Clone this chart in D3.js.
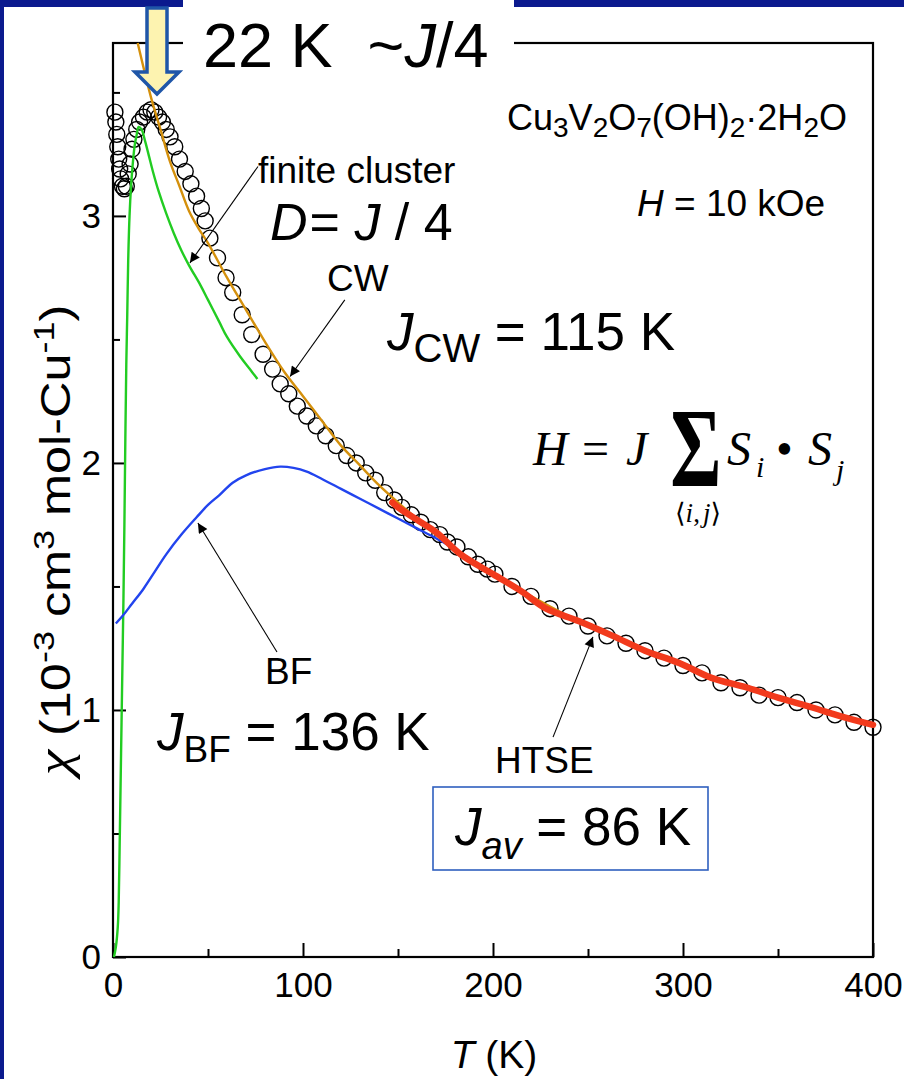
<!DOCTYPE html>
<html><head><meta charset="utf-8">
<script src="https://cdn.jsdelivr.net/npm/d3@7"></script>
<style>body{margin:0;background:#fff;} svg{display:block;} text{white-space:pre;}</style>
</head><body><svg id="c" width="904" height="1079"></svg>
<script>
// ---- data ----
const circleT   = [1,1.5,2,2.5,3,3.5,4,5,6,7,8,9,10,11,12.5,14,16,18,20,22,24,26,28,30,32.5,35,38,41,44,46.5,48.5,51,55,59.5,63,68,73,79,84,88,92.5,97,102,107,112,117.5,123,128,133,138,143,148,152,157,162,167,172,176,181,187,192,197,201,210,220,230,240,250,260,270,280,290,300,310,320,330,340,350,360,370,380,390,400];
const circleChi = [3.42,3.38,3.33,3.28,3.23,3.19,3.15,3.12,3.11,3.12,3.17,3.21,3.27,3.31,3.35,3.38,3.40,3.42,3.43,3.42,3.40,3.38,3.35,3.32,3.28,3.23,3.18,3.13,3.08,3.03,2.98,2.91,2.83,2.75,2.69,2.60,2.52,2.44,2.38,2.32,2.28,2.23,2.19,2.15,2.11,2.07,2.03,2.00,1.96,1.93,1.88,1.85,1.82,1.79,1.76,1.73,1.71,1.68,1.66,1.62,1.59,1.57,1.55,1.50,1.46,1.41,1.38,1.34,1.30,1.27,1.24,1.21,1.18,1.15,1.11,1.09,1.06,1.05,1.03,1.00,0.98,0.95,0.93];

const cwT   = [13,20,25,30,35,40,45,50,60,70,80,90,100,110,120,130,140,150,175,200,225,250,275,300,325,350,375,400];
const cwChi = [3.70,3.48,3.35,3.22,3.12,3.02,2.95,2.89,2.75,2.62,2.49,2.37,2.27,2.17,2.07,1.99,1.91,1.84,1.68,1.55,1.44,1.34,1.26,1.18,1.11,1.05,0.99,0.94];

const fcT   = [0.5,1.5,2.5,3,3.5,4,4.5,5,5.5,6,6.5,7,7.5,8,8.7,9.5,10.5,11.5,12.5,13.5,15,17,19,21,24,28,32,36,40,46,50,56,60,67,72,76];
const fcChi = [0.0,0.04,0.12,0.22,0.45,0.7,0.95,1.2,1.45,1.75,2.1,2.4,2.6,2.82,3.0,3.12,3.22,3.29,3.33,3.36,3.35,3.30,3.24,3.18,3.10,3.01,2.93,2.86,2.80,2.72,2.66,2.57,2.51,2.43,2.38,2.34];

const bfT   = [1.5,5,10,16,22,28,36,44,50,56,63,70,80,88,95,102,110,120,130,140,150,160,170,178];
const bfChi = [1.35,1.38,1.43,1.49,1.56,1.63,1.71,1.78,1.83,1.87,1.92,1.95,1.975,1.985,1.98,1.965,1.935,1.895,1.855,1.815,1.775,1.735,1.695,1.66];

const htseT   = [147,150,160,170,183,200,215,228,245,263,280,298,315,334,350,368,385,400];
const htseChi = [1.84,1.82,1.77,1.72,1.63,1.55,1.48,1.41,1.36,1.30,1.24,1.19,1.13,1.09,1.05,1.01,0.97,0.94];

const xMajor = [0,100,200,300,400];
const xMinor = [50,150,250,350];
const yMajor = [0,1,2,3];
const yMinor = [0.5,1.5,2.5,3.5];

// ---- drawing ----
const svg = d3.select('#c');
const SANS = '"Liberation Sans", Arial, Helvetica, sans-serif';
const SERIF = '"Liberation Serif", "Times New Roman", serif';
const x = d3.scaleLinear().domain([0,400]).range([113,873]);
const y = d3.scaleLinear().domain([0,3.7]).range([957,43]);
const zip = (a,b)=>a.map((v,i)=>[v,b[i]]);

svg.append('rect').attr('width',904).attr('height',1079).attr('fill','#fff');

// frame
svg.append('rect').attr('x',x(0)).attr('y',y(3.7)).attr('width',x(400)-x(0)).attr('height',y(0)-y(3.7))
  .attr('fill','none').attr('stroke','#000').attr('stroke-width',2.2);

// axes
function styleAxis(g){ g.select('.domain').remove(); g.selectAll('line').attr('stroke','#000').attr('stroke-width',2);
  g.selectAll('text').attr('font-family',SANS).attr('font-size',35).attr('fill','#000'); }
svg.append('g').attr('transform',`translate(0,${y(0)})`)
  .call(d3.axisBottom(x).tickValues(xMajor).tickSizeInner(-14).tickSizeOuter(0).tickPadding(15).tickFormat(d3.format('d'))).call(styleAxis);
svg.append('g').attr('transform',`translate(0,${y(0)})`)
  .call(d3.axisBottom(x).tickValues(xMinor).tickSizeInner(-8).tickSizeOuter(0).tickFormat('')).call(styleAxis);
svg.append('g').attr('transform',`translate(${x(0)},0)`)
  .call(d3.axisLeft(y).tickValues(yMajor).tickSizeInner(-13).tickSizeOuter(0).tickPadding(12).tickFormat(d3.format('d'))).call(styleAxis);
svg.append('g').attr('transform',`translate(${x(0)},0)`)
  .call(d3.axisLeft(y).tickValues(yMinor).tickSizeInner(-7).tickSizeOuter(0).tickFormat('')).call(styleAxis);

// data circles
svg.append('g').selectAll('circle').data(zip(circleT,circleChi)).join('circle')
  .attr('cx',d=>x(d[0])).attr('cy',d=>y(d[1])).attr('r',8)
  .attr('fill','none').attr('stroke','#000').attr('stroke-width',1.4);

const line = d3.line().x(d=>x(d[0])).y(d=>y(d[1])).curve(d3.curveCatmullRom.alpha(0.5));
svg.append('path').attr('d',line(zip(fcT,fcChi))).attr('fill','none').attr('stroke','#22cc22').attr('stroke-width',2.4);
svg.append('path').attr('d',line(zip(bfT,bfChi))).attr('fill','none').attr('stroke','#2244ee').attr('stroke-width',2.4);
svg.append('path').attr('d',line(zip(cwT,cwChi))).attr('fill','none').attr('stroke','#d4900c').attr('stroke-width',2.4);
svg.append('path').attr('d',line(zip(htseT,htseChi))).attr('fill','none').attr('stroke','#f23a1c').attr('stroke-width',6.5).attr('stroke-linecap','round');

// annotation arrows (in data coordinates)
svg.append('defs').append('marker').attr('id','ah').attr('viewBox','0 0 10 10').attr('refX',10).attr('refY',5)
  .attr('markerWidth',14).attr('markerHeight',10).attr('markerUnits','userSpaceOnUse').attr('orient','auto')
  .append('path').attr('d','M0,0L10,5L0,10z').attr('fill','#000');
const arrows = [
  [[76.3,3.20],[40.5,2.81]],
  [[122,2.66],[93.2,2.35]],
  [[86.3,1.235],[44.7,1.757]],
  [[231.6,0.89],[252.6,1.296]]
];
svg.append('g').selectAll('line').data(arrows).join('line')
  .attr('x1',d=>x(d[0][0])).attr('y1',d=>y(d[0][1])).attr('x2',d=>x(d[1][0])).attr('y2',d=>y(d[1][1]))
  .attr('stroke','#000').attr('stroke-width',1.1).attr('marker-end','url(#ah)');

// rich text helper
function rich(x0,y0,parts,base){
  const t = svg.append('text').attr('x',x0).attr('y',y0).attr('font-family',base.f||SANS).attr('font-size',base.s).attr('fill','#000');
  if(base.a) t.attr('text-anchor',base.a);
  if(base.tr) t.attr('transform',base.tr);
  let cur=0;
  parts.forEach(p=>{ const s=t.append('tspan').text(p.t); const o=p.o||0; if(o!==cur) s.attr('dy',o-cur); cur=o;
    if(p.s) s.attr('font-size',p.s); if(p.i) s.attr('font-style','italic'); if(p.dx) s.attr('dx',p.dx); if(p.f) s.attr('font-family',p.f); });
  return t;
}

// chart annotations
rich(258,183,[{t:'finite cluster'}],{s:37});
rich(327,291,[{t:'CW'}],{s:37});
rich(265,684,[{t:'BF'}],{s:37});
rich(495,773,[{t:'HTSE'}],{s:37});
rich(507,130,[{t:'Cu'},{t:'3',s:28,o:7},{t:'V'},{t:'2',s:28,o:7},{t:'O'},{t:'7',s:28,o:7},{t:'(OH)'},{t:'2',s:28,o:7},{t:'·2H'},{t:'2',s:28,o:7},{t:'O'}],{s:36});
rich(637,216,[{t:'H',i:1},{t:' = 10 kOe'}],{s:37});

// axis titles
rich(494,1068,[{t:'T',i:1},{t:' (K)'}],{s:39,a:'middle'});
rich(0,0,[{t:'χ',f:SERIF,i:1,s:48},{t:' (10'},{t:'-3',s:30,o:-16},{t:' cm'},{t:'3',s:30,o:-16},{t:' mol-Cu'},{t:'-1',s:30,o:-16},{t:')'}],{s:42,a:'middle',tr:'translate(70,540) rotate(-90) scale(1.2,1)'});

// slide texts
rich(270,240,[{t:'D',i:1},{t:'= ',dx:2},{t:'J',i:1},{t:' / 4'}],{s:52});
rich(387,350,[{t:'J',i:1},{t:'CW',s:40,o:12},{t:' = 115 K'}],{s:53});
rich(157,750,[{t:'J',i:1},{t:'BF',s:37,o:12},{t:' = 136 K'}],{s:53});
svg.append('rect').attr('x',433).attr('y',787).attr('width',275).attr('height',83).attr('fill','none').attr('stroke','#2f5fbf').attr('stroke-width',1.6);
rich(455,845,[{t:'J',i:1},{t:'av',s:38,o:14,i:1},{t:' = 86 K'}],{s:53});

// Hamiltonian
rich(533,465,[{t:'H',i:1}],{s:48,f:SERIF});
rich(582,465,[{t:'='}],{s:48,f:SERIF});
rich(626,465,[{t:'J',i:1}],{s:48,f:SERIF});
svg.append('text').attr('x',696).attr('y',486).attr('text-anchor','middle').attr('font-family',SERIF).attr('font-size',112).attr('font-weight','bold')
  .attr('transform','translate(696,0) scale(0.7,1) translate(-696,0)').text('Σ');
rich(698,522,[{t:'⟨',f:'"DejaVu Serif", serif'},{t:'i',i:1},{t:','},{t:'j',i:1,dx:3},{t:'⟩',f:'"DejaVu Serif", serif'}],{s:27,f:SERIF,a:'middle'});
rich(727,465,[{t:'S',i:1}],{s:48,f:SERIF});
rich(756,477,[{t:'i',i:1}],{s:30,f:SERIF});
rich(776,465,[{t:'•'}],{s:48,f:SERIF});
rich(808,465,[{t:'S',i:1}],{s:48,f:SERIF});
rich(836,480,[{t:'j',i:1}],{s:30,f:SERIF});

// top slide decorations
svg.append('rect').attr('x',0).attr('y',0).attr('width',4).attr('height',1079).attr('fill','#0b1a8e');
svg.append('rect').attr('x',0).attr('y',0).attr('width',183).attr('height',7).attr('fill','#0b1a8e');
svg.append('rect').attr('x',514).attr('y',0).attr('width',390).attr('height',7).attr('fill','#0b1a8e');
svg.append('rect').attr('x',183).attr('y',0).attr('width',331).attr('height',75).attr('fill','#fff');
rich(203,67,[{t:'22 K  ~'},{t:'J',i:1},{t:'/4'}],{s:63});

// yellow down arrow
const ax=157;
svg.append('path').attr('d',`M${ax-10},8 L${ax+10},8 L${ax+10},72 L${ax+22},72 L${ax},94 L${ax-22},72 L${ax-10},72 Z`)
  .attr('fill','#fdf3b0').attr('stroke','#1f56a8').attr('stroke-width',3.5).attr('stroke-linejoin','miter');
</script></body></html>
